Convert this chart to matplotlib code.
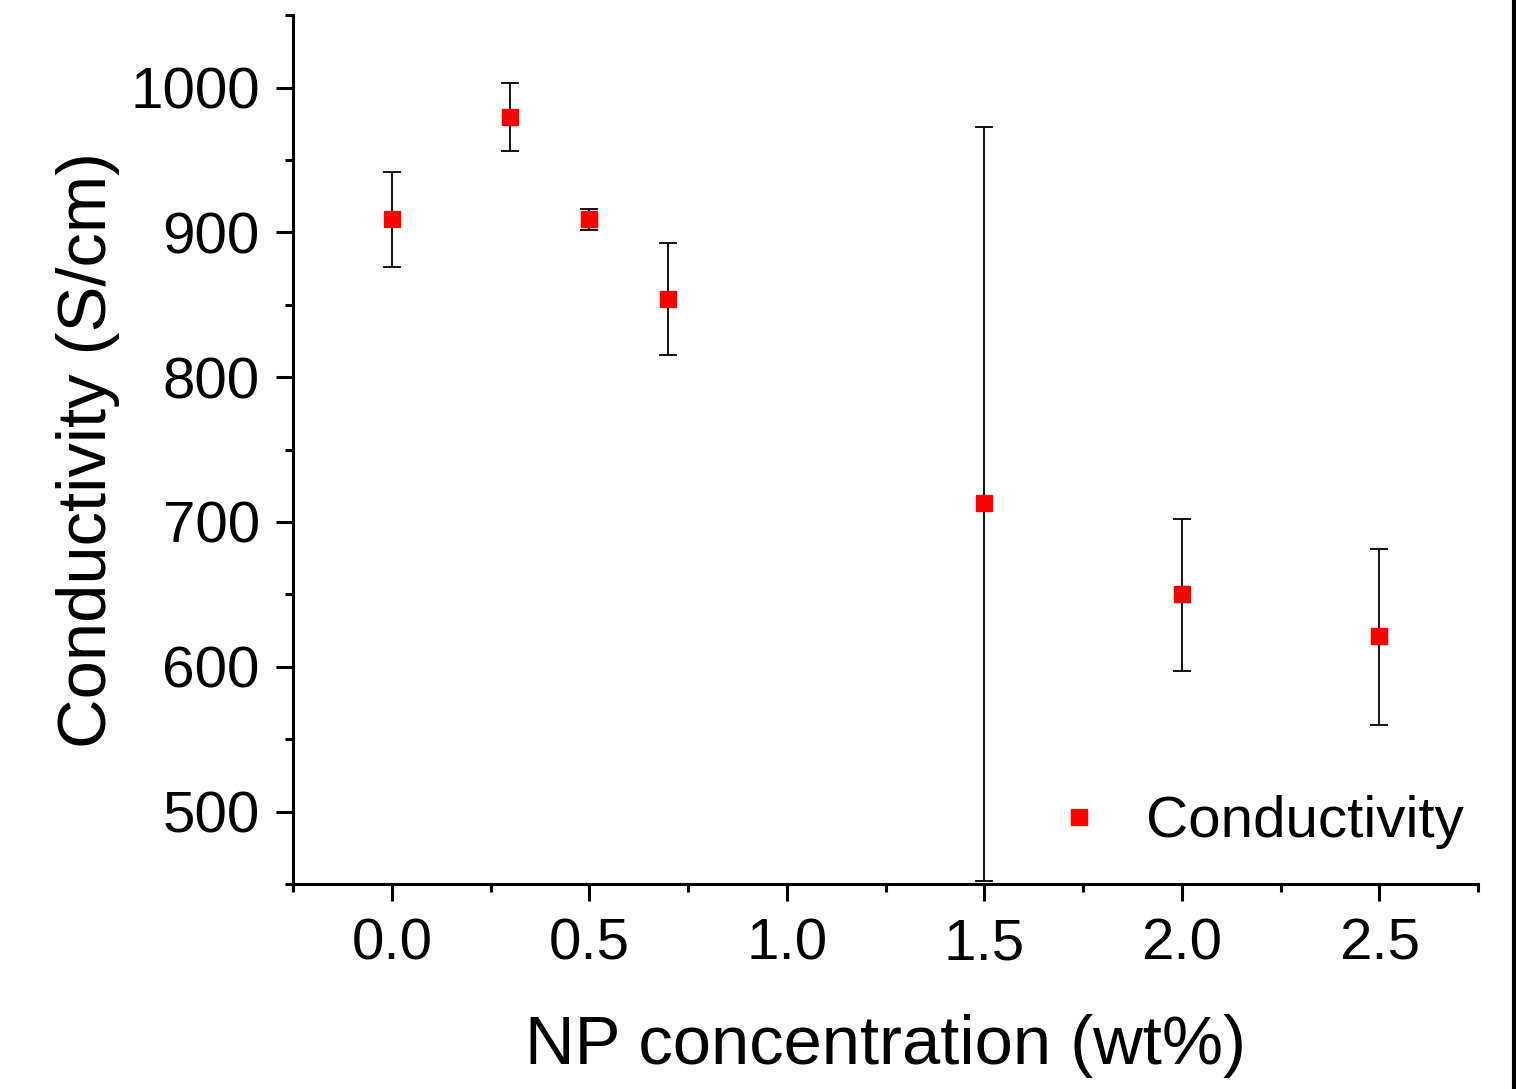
import matplotlib
matplotlib.use("Agg")
import matplotlib.pyplot as plt
from matplotlib.ticker import MultipleLocator
from matplotlib.lines import Line2D

# NP concentration (wt%) and conductivity (S/cm)
conc = [0.0, 0.3, 0.5, 0.7, 1.5, 2.0, 2.5]
cond = [909, 980, 909, 854, 713, 650, 621]
err_low = [33, 24, 7, 39, 261, 53, 61]
err_high = [33, 23, 7, 39, 260, 52, 60]

plt.rcParams['font.family'] = ['Liberation Sans', 'DejaVu Sans']

fig = plt.figure(figsize=(15.16, 10.89), dpi=100)
ax = fig.add_axes([0.1933, 0.1883, 0.7817, 0.7977])

ax.errorbar(conc, cond, yerr=[err_low, err_high], fmt='s', color='red',
            markersize=12, ecolor='black', elinewidth=1.3, capsize=6.5,
            capthick=1.3, zorder=3)

ax.set_xlim(-0.25, 2.75)
ax.set_ylim(450, 1050)
ax.xaxis.set_major_locator(MultipleLocator(0.5))
ax.xaxis.set_minor_locator(MultipleLocator(0.25))
ax.yaxis.set_major_locator(MultipleLocator(100))
ax.yaxis.set_minor_locator(MultipleLocator(50))
ax.set_xticks([0.0, 0.5, 1.0, 1.5, 2.0, 2.5])
ax.set_xticklabels(['0.0', '0.5', '1.0', '1.5', '2.0', '2.5'])
ax.set_yticks([500, 600, 700, 800, 900, 1000])

for s in ['top', 'right']:
    ax.spines[s].set_visible(False)
for s in ['left', 'bottom']:
    ax.spines[s].set_linewidth(2.2)

ax.tick_params(which='major', direction='out', length=12, width=2.2,
               labelsize=42, pad=12)
ax.tick_params(which='minor', direction='out', length=6, width=2.2)

ax.set_xlabel('NP concentration (wt%)', fontsize=49.5, labelpad=31)
ax.set_ylabel('Conductivity (S/cm)', fontsize=49.5, labelpad=7)

handle = Line2D([], [], linestyle='none', marker='s', color='red',
                markersize=12)
ax.legend([handle], ['Conductivity'], loc='center right', frameon=False,
          fontsize=42, handlelength=1.0, handletextpad=0.65, borderpad=0,
          borderaxespad=0, bbox_to_anchor=(0.988, 0.071))

# black frame edge on the right of the picture
fig.add_artist(Line2D([0.9990, 0.9990], [0, 1], color='black', linewidth=3,
                      transform=fig.transFigure))

fig.savefig('out.png', dpi=100)
